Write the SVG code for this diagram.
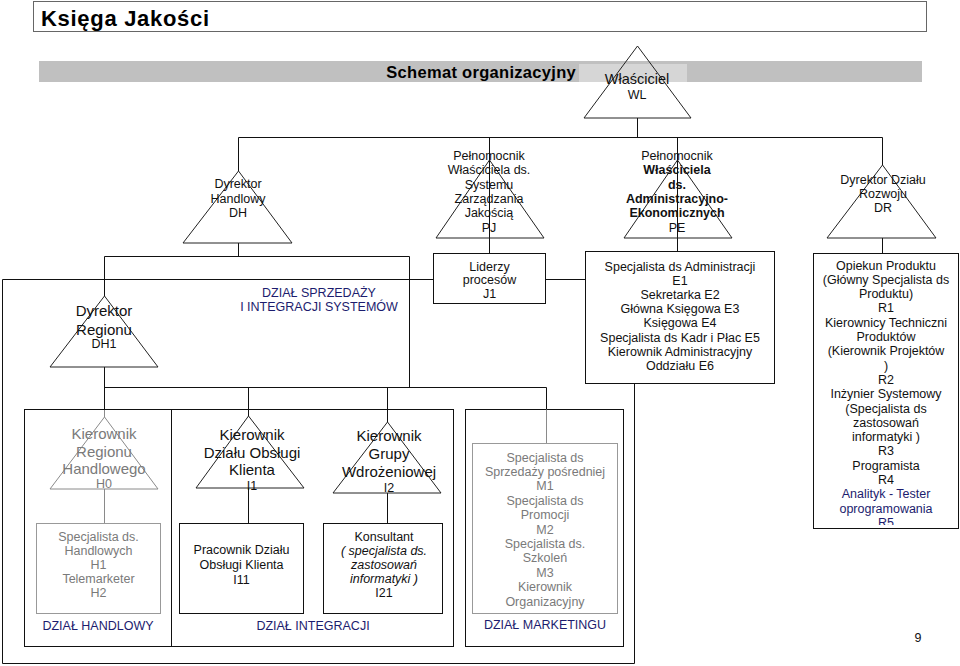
<svg xmlns="http://www.w3.org/2000/svg" width="960" height="666" viewBox="0 0 960 666">
<defs>
<style>
text{font-family:"Liberation Sans",Arial,sans-serif;font-size:12.5px;fill:#111;text-anchor:middle}
.big{font-size:15px}
.wl{font-size:14.5px}
.gt{fill:#7a7a7a}
.nv{fill:#1c1c6e}
.b{font-weight:bold}
.i{font-style:italic}
.ln{stroke:#111;stroke-width:1;fill:none}
.gl{stroke:#8a8a8a;stroke-width:1;fill:none}
.box{fill:#fff;stroke:#111;stroke-width:1}
.gbox{fill:#fff;stroke:#999;stroke-width:1}
.tri{fill:none;stroke:#222;stroke-width:1}
.gtri{fill:none;stroke:#8a8a8a;stroke-width:1}
</style>
<clipPath id="rclip"><rect x="813" y="253" width="146" height="272"/></clipPath>
</defs>
<rect width="960" height="666" fill="#fff"/>

<g id="header">
<rect x="33.5" y="1.5" width="893" height="30" fill="#fff" stroke="#666" stroke-width="1"/>
<text x="41" y="26" class="b" style="font-size:22px;letter-spacing:0.7px;text-anchor:start;fill:#000">Księga Jakości</text>
<rect x="39" y="61" width="883" height="21" fill="#c0c0c0"/>
<rect x="579" y="64" width="108" height="18" fill="#d6d6d6"/>
<text x="576" y="77.5" class="b" style="font-size:16.5px;letter-spacing:0.3px;text-anchor:end;fill:#000">Schemat organizacyjny</text>
</g>

<g id="departments">
<rect x="24.5" y="409.5" width="147" height="237" class="box"/>
<rect x="171.5" y="409.5" width="282" height="237" class="box"/>
<rect x="465.5" y="409.5" width="158" height="237" class="box"/>
</g>

<g id="connectors">
<path class="ln" d="M637.5,118 V137.5 M238.5,137.5 H882.5 M238.5,137.5 V171 M489.5,137.5 V253 M677.5,137.5 V251 M882.5,137.5 V165 M882.5,238 V253"/>
<path class="ln" d="M238.5,243 V256.5 M104.5,256.5 H409.5 V387.5 M104.5,256.5 V296 M104.5,367 V410 M104.5,387.5 H546.5 V409.5 M248.5,387.5 V416 M387.5,387.5 V422 M248.5,488 V523 M387.5,493 V523"/>
<path class="gl" d="M104.5,410 V417 M104.5,489 V523 M546.5,409.5 V443"/>
<path class="ln" d="M433,279.5 H2.5 V663.5 H634.5 V383 M546,279.5 H585"/>
</g>

<g id="n-WL">
<polygon class="tri" points="637.5,46 584,118 691,118"/>
<text x="637" y="84" class="wl">Właściciel</text>
<text x="637" y="99">WL</text>
</g>

<g id="n-DH">
<polygon class="tri" points="238.5,171 183,243 292,243"/>
<text x="238" y="188">Dyrektor</text>
<text x="238" y="203">Handlowy</text>
<text x="238" y="217">DH</text>
</g>

<g id="n-PJ">
<polygon class="tri" points="489.5,160 436,238 544,238"/>
<text x="489" y="160">Pełnomocnik</text>
<text x="489" y="174.3">Właściciela ds.</text>
<text x="489" y="188.6">Systemu</text>
<text x="489" y="202.9">Zarządzania</text>
<text x="489" y="217.2">Jakością</text>
<text x="489" y="231.5">PJ</text>
</g>

<g id="n-PE">
<polygon class="tri" points="677.5,160 624,238 732,238"/>
<text x="677" y="160">Pełnomocnik</text>
<text x="677" y="174.3" class="b">Właściciela</text>
<text x="677" y="188.6" class="b">ds.</text>
<text x="677" y="202.9" class="b">Administracyjno-</text>
<text x="677" y="217.2" class="b">Ekonomicznych</text>
<text x="677" y="231.5">PE</text>
</g>

<g id="n-DR">
<polygon class="tri" points="882.5,165 827,238 936,238"/>
<text x="883" y="184">Dyrektor Działu</text>
<text x="883" y="198">Rozwoju</text>
<text x="883" y="212">DR</text>
</g>

<g id="n-J1">
<rect x="433.5" y="253.5" width="112" height="50" class="box"/>
<text x="489.5" y="270.5">Liderzy</text>
<text x="489.5" y="284">procesów</text>
<text x="489.5" y="297.5">J1</text>
</g>

<g id="n-E">
<rect x="585.5" y="251.5" width="189" height="132" class="box"/>
<text x="680" y="270.5">Specjalista ds Administracji</text>
<text x="680" y="284.7">E1</text>
<text x="680" y="298.9">Sekretarka E2</text>
<text x="680" y="313.1">Główna Księgowa E3</text>
<text x="680" y="327.3">Księgowa E4</text>
<text x="680" y="341.5">Specjalista ds Kadr i Płac E5</text>
<text x="680" y="355.7">Kierownik Administracyjny</text>
<text x="680" y="369.9">Oddziału E6</text>
</g>

<g id="n-R">
<rect x="813.5" y="253.5" width="145" height="275" class="box"/>
<g clip-path="url(#rclip)">
<text x="886" y="269.5">Opiekun Produktu</text>
<text x="886" y="283.8">(Główny Specjalista ds</text>
<text x="886" y="298.1">Produktu)</text>
<text x="886" y="312.4">R1</text>
<text x="886" y="326.7">Kierownicy Techniczni</text>
<text x="886" y="341">Produktów</text>
<text x="886" y="355.3">(Kierownik Projektów</text>
<text x="886" y="369.6">)</text>
<text x="886" y="383.9">R2</text>
<text x="886" y="398.2">Inżynier Systemowy</text>
<text x="886" y="412.5">(Specjalista ds</text>
<text x="886" y="426.8">zastosowań</text>
<text x="886" y="441.1">informatyki )</text>
<text x="886" y="455.4">R3</text>
<text x="886" y="469.7">Programista</text>
<text x="886" y="484">R4</text>
<text x="886" y="498.3" class="nv">Analityk - Tester</text>
<text x="886" y="512.6" class="nv">oprogramowania</text>
<text x="886" y="526.9" class="nv">R5</text>
</g>
</g>

<g id="n-DH1">
<polygon class="tri" points="104.5,296 50,367 158,367"/>
<text x="104" y="316" class="big">Dyrektor</text>
<text x="104" y="335" class="big">Regionu</text>
<text x="104" y="348">DH1</text>
</g>

<g id="n-sprzedaz">
<text x="319" y="297" class="nv">DZIAŁ SPRZEDAŻY</text>
<text x="319" y="311" class="nv">I INTEGRACJI SYSTEMÓW</text>
</g>

<g id="n-H0">
<polygon class="gtri" points="104.5,417 50,489 158,489"/>
<text x="104" y="438.5" class="big gt">Kierownik</text>
<text x="104" y="456.5" class="big gt">Regionu</text>
<text x="104" y="473.5" class="big gt">Handlowego</text>
<text x="104" y="488" class="gt">H0</text>
</g>

<g id="n-H">
<rect x="36.5" y="523.5" width="124" height="90" class="gbox"/>
<text x="98.5" y="540.5" class="gt">Specjalista ds.</text>
<text x="98.5" y="554.5" class="gt">Handlowych</text>
<text x="98.5" y="568.5" class="gt">H1</text>
<text x="98.5" y="582.5" class="gt">Telemarketer</text>
<text x="98.5" y="596.5" class="gt">H2</text>
</g>

<g id="n-I1">
<polygon class="tri" points="248.5,416 196,488 304,488"/>
<text x="252" y="439.5" class="big">Kierownik</text>
<text x="252" y="457.5" class="big">Działu Obsługi</text>
<text x="252" y="474.5" class="big">Klienta</text>
<text x="252" y="489.5">I1</text>
</g>

<g id="n-I2">
<polygon class="tri" points="387.5,422 333,493 441,493"/>
<text x="389" y="441" class="big">Kierownik</text>
<text x="389" y="458.5" class="big">Grupy</text>
<text x="389" y="477" class="big">Wdrożeniowej</text>
<text x="389" y="491.5">I2</text>
</g>

<g id="n-I11">
<rect x="179.5" y="523.5" width="124" height="90" class="box"/>
<text x="241.5" y="553.5">Pracownik Działu</text>
<text x="241.5" y="568.5">Obsługi Klienta</text>
<text x="241.5" y="583.5">I11</text>
</g>

<g id="n-I21">
<rect x="323.5" y="523.5" width="119" height="90" class="box"/>
<text x="384" y="540.5">Konsultant</text>
<text x="384" y="554.5" class="i">( specjalista ds.</text>
<text x="384" y="568.5" class="i">zastosowań</text>
<text x="384" y="582.5" class="i">informatyki )</text>
<text x="384" y="596.5">I21</text>
</g>

<g id="n-M">
<rect x="472.5" y="443.5" width="145" height="170" class="gbox"/>
<text x="545" y="461.5" class="gt">Specjalista ds</text>
<text x="545" y="475.9" class="gt">Sprzedaży pośredniej</text>
<text x="545" y="490.3" class="gt">M1</text>
<text x="545" y="504.7" class="gt">Specjalista ds</text>
<text x="545" y="519.1" class="gt">Promocji</text>
<text x="545" y="533.5" class="gt">M2</text>
<text x="545" y="547.9" class="gt">Specjalista ds.</text>
<text x="545" y="562.3" class="gt">Szkoleń</text>
<text x="545" y="576.7" class="gt">M3</text>
<text x="545" y="591.1" class="gt">Kierownik</text>
<text x="545" y="605.5" class="gt">Organizacyjny</text>
</g>

<g id="labels">
<text x="98" y="629.5" class="nv">DZIAŁ HANDLOWY</text>
<text x="313" y="629.5" class="nv">DZIAŁ INTEGRACJI</text>
<text x="545" y="628.5" class="nv">DZIAŁ MARKETINGU</text>
<text x="918" y="642">9</text>
</g>
</svg>
